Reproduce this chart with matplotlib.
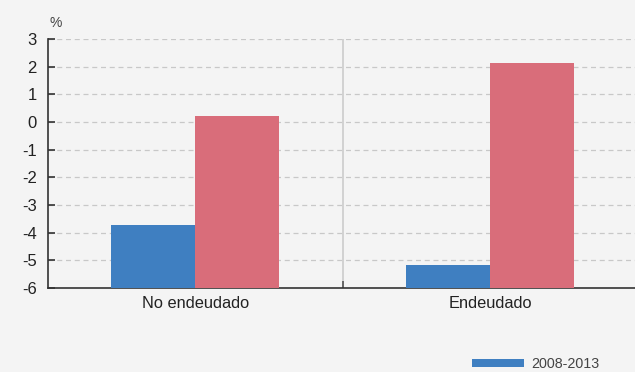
import matplotlib
matplotlib.use("Agg")
import matplotlib.pyplot as plt
from matplotlib.patches import Patch
import numpy as np

categories = ["No endeudado", "Endeudado"]
series_2008_2013 = [-3.72, -5.17]
series_second = [0.22, 2.15]
legend_labels = ["2008-2013"]
yticks = [3, 2, 1, 0, -1, -2, -3, -4, -5, -6]

plt.rcParams['font.family'] = ['Liberation Sans', 'DejaVu Sans']
bg = "#f4f4f4"
blue = "#3f7fc1"
red = "#d96d7a"

fig = plt.figure(figsize=(6.35, 3.72), dpi=100, facecolor=bg)
ax = fig.add_axes([48/635, 84/372, 589.5/635, 249/372], facecolor=bg)

x = np.arange(len(categories))
w = 0.285
ymin = -6
ax.bar(x - w/2, np.array(series_2008_2013) - ymin, w, bottom=ymin, color=blue, zorder=3, linewidth=0)
ax.bar(x + w/2, np.array(series_second) - ymin, w, bottom=ymin, color=red, zorder=3, linewidth=0)

ax.set_xlim(-0.5, 1.5)
ax.set_ylim(-6, 3)
ax.set_yticks(yticks)
ax.set_yticklabels([str(t) for t in yticks], fontsize=12, color="#222222")
for t in yticks:
    if t > -6:
        ax.axhline(t, color="#c8c8c8", linestyle=(0, (4, 3)), linewidth=0.9, zorder=1)
ax.axvline(0.5, color="#cccccc", linewidth=1.2, zorder=1)

ax.set_xticks(x)
ax.set_xticklabels(categories, fontsize=11.8, color="#222222")
ax.tick_params(axis='x', length=0, pad=6)
ax.set_xticks([0.5], minor=True)
ax.tick_params(axis='x', which='minor', direction='in', length=5, color="#555555", width=1.2)
ax.tick_params(axis='y', direction='in', length=5, color="#333333", width=1.2, pad=8)

for s in ["top", "right"]:
    ax.spines[s].set_visible(False)
ax.spines["left"].set_color("#333333")
ax.spines["left"].set_linewidth(1.2)
ax.spines["bottom"].set_color("#333333")
ax.spines["bottom"].set_linewidth(1.2)

fig.text(49/635, 1 - 23/372, "%", fontsize=10, color="#444444", va="center", ha="left")

handles = [Patch(facecolor=blue, edgecolor="none")]
leg = fig.legend(handles, legend_labels, loc="center left", bbox_to_anchor=(472/635, 1 - 364/372),
                 frameon=False, fontsize=10.3, handlelength=3.6, handleheight=0.55,
                 handletextpad=0.55, borderpad=0, borderaxespad=0)
for t in leg.get_texts():
    t.set_color("#444444")

fig.savefig("out.png", dpi=100, facecolor=bg)
